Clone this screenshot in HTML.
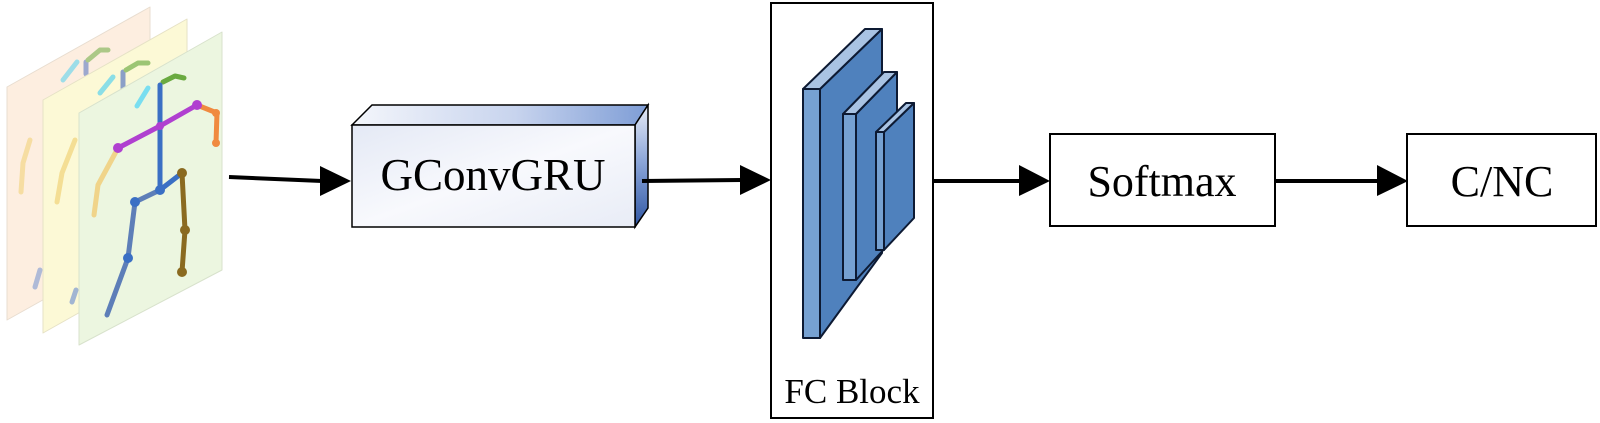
<!DOCTYPE html>
<html><head><meta charset="utf-8"><style>
html,body{margin:0;padding:0;background:#fff;}
svg{display:block;}
text{font-family:"Liberation Serif",serif;fill:#000;}
</style></head><body>
<svg width="1600" height="423" viewBox="0 0 1600 423" xmlns="http://www.w3.org/2000/svg">
<defs>
<linearGradient id="gf" x1="0" y1="0" x2="1" y2="1">
<stop offset="0" stop-color="#e4e9f5"/><stop offset="0.5" stop-color="#f8f9fd"/><stop offset="1" stop-color="#e8ecf6"/></linearGradient>
<linearGradient id="gt" x1="0" y1="0" x2="1" y2="0">
<stop offset="0" stop-color="#f4f6fb"/><stop offset="0.55" stop-color="#c8d4ee"/><stop offset="1" stop-color="#7e9dd6"/></linearGradient>
<linearGradient id="gs" x1="0" y1="0" x2="0" y2="1">
<stop offset="0" stop-color="#e8ecf6"/><stop offset="0.45" stop-color="#8ea8da"/><stop offset="1" stop-color="#2f56a3"/></linearGradient>
</defs>

<g stroke-linecap="round" stroke-linejoin="round">
<polygon points="7,87 150,7 150,240 7,320" fill="#fdeee0" stroke="#e8ddd0" stroke-width="1"/>
<g opacity="0.55" fill="none" stroke-width="5">
<polyline points="63,80 77,62" stroke="#4fd0f0"/>
<line x1="86" y1="62" x2="86" y2="74" stroke="#5070c0"/>
<polyline points="88,60 100,50 108,50" stroke="#6aaa40"/>
<polyline points="30,140 23,163 21,192" stroke="#f0d070"/>
<polyline points="40,270 35,287" stroke="#7090d0"/>
</g>
<polygon points="43,100 187,19 187,252 43,333" fill="#fcf9d6" stroke="#e6e2c6" stroke-width="1"/>
<g opacity="0.65" fill="none" stroke-width="5">
<polyline points="100,93 113,77" stroke="#4fd0f0"/>
<line x1="123" y1="72" x2="123" y2="88" stroke="#5070c0"/>
<polyline points="126,70 138,63 148,63" stroke="#6aaa40"/>
<polyline points="75,140 62,173 57,202" stroke="#f0d070"/>
<polyline points="76,290 72,302" stroke="#7090d0"/>
</g>
<polygon points="79,113 222,32 222,270 79,345" fill="#ecf6e0" stroke="#d8e2cc" stroke-width="1"/>
<g fill="none" stroke-width="5">
<polyline points="137,106 148,88" stroke="#5cd8f4" opacity="0.8"/>
<polyline points="163,82 175,76 184,78" stroke="#6aaa40"/>
<line x1="160" y1="85" x2="160" y2="190" stroke="#3a6fc4"/>
<polyline points="118,148 160,126 197,105" stroke="#b040d0"/>
<polyline points="197,105 217,113 216,143" stroke="#f08a40"/>
<polyline points="118,148 98,185 94,215" stroke="#f0d48a"/>
<polyline points="160,190 182,173" stroke="#3a6fc4"/>
<polyline points="160,190 135,202 128,258 107,315" stroke="#4468b0" opacity="0.85"/>
<polyline points="182,173 185,230 182,272" stroke="#8a6a20"/>
</g>
<g stroke="none">
<circle cx="118" cy="148" r="5" fill="#b040d0"/><circle cx="197" cy="105" r="5" fill="#b040d0"/><circle cx="160" cy="126" r="4" fill="#b040d0"/>
<circle cx="160" cy="190" r="5" fill="#3a6fc4"/><circle cx="135" cy="202" r="5" fill="#3a6fc4"/><circle cx="128" cy="258" r="5" fill="#3a6fc4"/>
<circle cx="182" cy="173" r="5" fill="#8a6a20"/><circle cx="185" cy="230" r="5" fill="#8a6a20"/><circle cx="182" cy="272" r="5" fill="#8a6a20"/>
<circle cx="216" cy="113" r="4" fill="#f08a40"/><circle cx="216" cy="143" r="4" fill="#f08a40"/>
</g>
</g>

<line x1="229" y1="177" x2="322" y2="181" stroke="#000" stroke-width="4"/>
<polygon points="320,166 351,181 320,196" fill="#000"/>

<polygon points="352,125 372,105 648,105 635,125" fill="url(#gt)" stroke="#000" stroke-width="1.5"/>
<polygon points="635,125 648,105 648,208 635,227" fill="url(#gs)" stroke="#000" stroke-width="1.5"/>
<rect x="352" y="125" width="283" height="102" fill="url(#gf)" stroke="#000" stroke-width="1.5"/>
<text x="493" y="190" font-size="45" text-anchor="middle">GConvGRU</text>

<line x1="642" y1="181" x2="742" y2="180" stroke="#000" stroke-width="4"/>
<polygon points="740,165 771,180 740,195" fill="#000"/>

<rect x="771" y="3" width="162" height="415" fill="#fff" stroke="#000" stroke-width="2"/>
<g stroke="#0d1a33" stroke-width="2" stroke-linejoin="round">
<polygon points="820,89 882,29 882,253 820,338" fill="#4f81bd"/>
<polygon points="803,89 865,29 882,29 820,89" fill="#a9c3e3"/>
<rect x="803" y="89" width="17" height="249" fill="#76a1d2"/>
<polygon points="856,114 897,72 897,235 856,280" fill="#4f81bd"/>
<polygon points="843,114 884,72 897,72 856,114" fill="#a9c3e3"/>
<rect x="843" y="114" width="13" height="166" fill="#76a1d2"/>
<polygon points="884,132 914,103 914,218 884,250" fill="#4f81bd"/>
<polygon points="876,132 906,103 914,103 884,132" fill="#a9c3e3"/>
<rect x="876" y="132" width="8" height="118" fill="#76a1d2"/>
</g>
<text x="852" y="403" font-size="35" text-anchor="middle">FC Block</text>

<line x1="933" y1="181" x2="1022" y2="181" stroke="#000" stroke-width="4"/>
<polygon points="1019,165 1050,181 1019,196" fill="#000"/>

<rect x="1050" y="134" width="225" height="92" fill="#fff" stroke="#000" stroke-width="2"/>
<text x="1162" y="196" font-size="44" text-anchor="middle">Softmax</text>

<line x1="1275" y1="181" x2="1380" y2="181" stroke="#000" stroke-width="4"/>
<polygon points="1377,165 1408,181 1377,196" fill="#000"/>

<rect x="1407" y="134" width="189" height="92" fill="#fff" stroke="#000" stroke-width="2"/>
<text x="1502" y="196" font-size="44" text-anchor="middle">C/NC</text>
</svg>
</body></html>
